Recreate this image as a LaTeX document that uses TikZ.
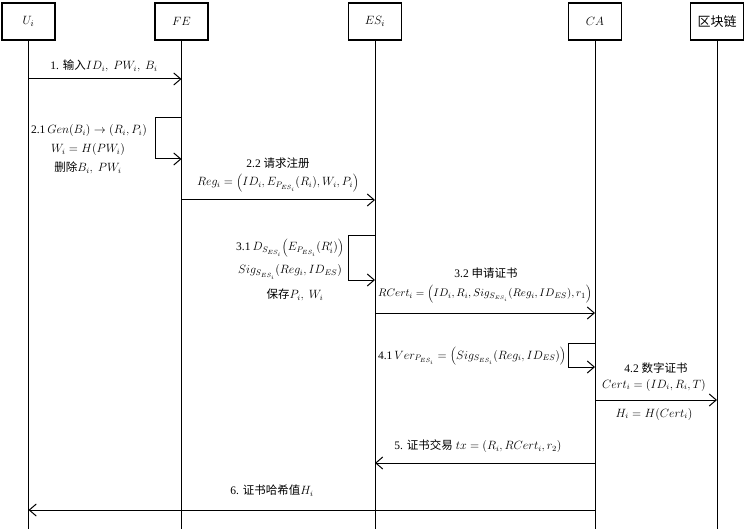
\documentclass[tikz,border=0pt]{standalone}
\usepackage{fontspec}
\setmainfont{Liberation Serif}
\newfontfamily\cjk{Noto Sans CJK SC}
\usetikzlibrary{arrows.meta}
\begin{document}
\begin{tikzpicture}[x=1pt,y=-1pt,
  actor/.style={draw, line width=1.2pt, minimum width=53pt, minimum height=37pt, inner sep=0pt, font=\fontsize{13}{15}\selectfont},
  life/.style={line width=1pt},
  msg/.style={line width=1pt, -{Straight Barb[length=7pt,width=12pt,line width=1pt]}},
  lbl/.style={font=\fontsize{11.5}{13}\selectfont, inner sep=0pt}]
\useasboundingbox (0,0) rectangle (746,529);
% actors
\node[actor] (U)  at (28.5,21.5) {$U_i$};
\node[actor] (FE) at (181.5,21.5) {$FE$};
\node[actor] (ES) at (375,21.5) {$ES_i$};
\node[actor] (CA) at (595,21.5) {$CA$};
\node[actor] (BC) at (717,21.5) {\cjk 区块链};
\coordinate (bot) at (0,529);
\foreach \n in {U,FE,ES,CA,BC} \draw[life] (\n.south) -- (\n |- bot);
% message 1
\coordinate (m1) at (0,79);
\draw[msg] (U |- m1) -- (FE |- m1);
\node[lbl] (t1) at (104,66) {1. {\cjk 输入}$ID_i,\ PW_i,\ B_i$};
% self loop 2.1
\coordinate (l21a) at (155,118);
\coordinate (l21b) at (155,159);
\draw[msg] (FE |- l21a) -- (l21a) -- (l21b) -- (FE |- l21b);
\node[lbl] (t21a) at (89,131) {2.1\,$Gen\bigl(B_i\bigr)\rightarrow\bigl(R_i,P_i\bigr)$};
\node[lbl] (t21b) at (88,150) {$W_i=H\bigl(PW_i\bigr)$};
\node[lbl] (t21c) at (88,168) {{\cjk 删除}$B_i,\ PW_i$};
% message 2.2
\coordinate (m22) at (0,200);
\draw[msg] (FE |- m22) -- (ES |- m22);
\node[lbl] (t22a) at (278,163) {2.2 {\cjk 请求注册}};
\node[lbl] (t22b) at (278,183) {$Reg_i=\Bigl(ID_i,E_{P_{ES_i}}\bigl(R_i\bigr),W_i,P_i\Bigr)$};
% self loop 3.1
\coordinate (l31a) at (348,236);
\coordinate (l31b) at (348,280);
\draw[msg] (ES |- l31a) -- (l31a) -- (l31b) -- (ES |- l31b);
\node[lbl] (t31a) at (290,248) {3.1\,$D_{S_{ES_i}}\Bigl(E_{P_{ES_i}}\bigl(R_i'\bigr)\Bigr)$};
\node[lbl] (t31b) at (290,272) {$Sig_{S_{ES_i}}\bigl(Reg_i,ID_{ES}\bigr)$};
\node[lbl] (t31c) at (295,295) {{\cjk 保存}$P_i,\ W_i$};
% message 3.2
\coordinate (m32) at (0,313);
\draw[msg] (ES |- m32) -- (CA |- m32);
\node[lbl] (t32a) at (486,273) {3.2 {\cjk 申请证书}};
\node[lbl, font=\fontsize{11}{13}\selectfont] (t32b) at (485,294) {$RCert_i=\Bigl(ID_i,R_i,Sig_{S_{ES_i}}\bigl(Reg_i,ID_{ES}\bigr),r_1\Bigr)$};
% self loop 4.1
\coordinate (l41a) at (568,343);
\coordinate (l41b) at (568,367);
\draw[msg] (CA |- l41a) -- (l41a) -- (l41b) -- (CA |- l41b);
\node[lbl] (t41) at (472,356) {4.1\,$Ver_{P_{ES_i}}=\Bigl(Sig_{S_{ES_i}}\bigl(Reg_i,ID_{ES}\bigr)\Bigr)$};
% message 4.2
\coordinate (m42) at (0,400);
\draw[msg] (CA |- m42) -- (BC |- m42);
\node[lbl] (t42a) at (656,368) {4.2 {\cjk 数字证书}};
\node[lbl] (t42b) at (654,385) {$Cert_i=\bigl(ID_i,R_i,T\bigr)$};
\node[lbl] (t42c) at (654,414) {$H_i=H\bigl(Cert_i\bigr)$};
% message 5
\coordinate (m5) at (0,463);
\draw[msg] (CA |- m5) -- (ES |- m5);
\node[lbl] (t5) at (478,446) {5. {\cjk 证书交易} $tx=\bigl(R_i,RCert_i,r_2\bigr)$};
% message 6
\coordinate (m6) at (0,510);
\draw[msg] (CA |- m6) -- (U |- m6);
\node[lbl] (t6) at (272,491) {6. {\cjk 证书哈希值}$H_i$};
\end{tikzpicture}
\end{document}
